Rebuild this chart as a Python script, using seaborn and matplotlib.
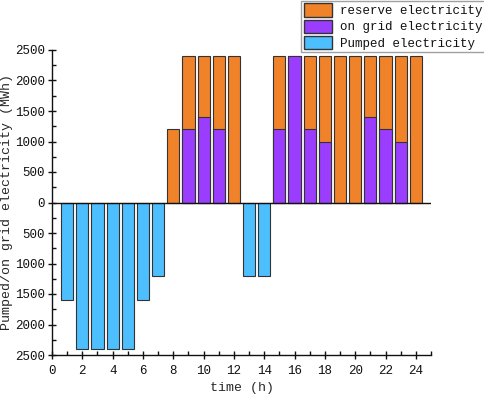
import matplotlib
matplotlib.use("Agg")
import matplotlib.pyplot as plt
import matplotlib.patches as mpatches
from matplotlib.ticker import MultipleLocator, FuncFormatter
import pandas as pd
import seaborn as sns

hours = list(range(1, 25))
pumped = [1600, 2400, 2400, 2400, 2400, 1600, 1200, 0, 0, 0, 0, 0,
          1200, 1200, 0, 0, 0, 0, 0, 0, 0, 0, 0, 0]
on_grid = [0, 0, 0, 0, 0, 0, 0, 0, 1200, 1400, 1200, 0,
           0, 0, 1200, 2400, 1200, 1000, 0, 0, 1400, 1200, 1000, 0]
reserve = [0, 0, 0, 0, 0, 0, 0, 1200, 1200, 1000, 1200, 2400,
           0, 0, 1200, 0, 1200, 1400, 2400, 2400, 1000, 1200, 1400, 2400]

labels = ["reserve electricity", "on grid electricity", "Pumped electricity"]
colors = ["#F0822A", "#9B3DFF", "#4DBFFF"]

df = pd.DataFrame({"hour": hours, "pumped": pumped,
                   "on_grid": on_grid, "reserve": reserve})
df["total"] = df["on_grid"] + df["reserve"]
df["pumped_neg"] = -df["pumped"]

sns.set_style("ticks")
plt.rcParams["font.family"] = ["Liberation Mono", "DejaVu Sans"]
plt.rcParams["text.color"] = "#111111"

fig = plt.figure(figsize=(4.84, 3.97), dpi=100)
ax = fig.add_axes([52 / 484, 42 / 397, 379 / 484, 305 / 397])

edge = "#333333"
bar_kw = dict(native_scale=True, width=0.8, edgecolor=edge, linewidth=0.8,
              ax=ax, legend=False, saturation=1)
sns.barplot(data=df[df["total"] > 0], x="hour", y="total", color=colors[0], **bar_kw)
sns.barplot(data=df[df["on_grid"] > 0], x="hour", y="on_grid", color=colors[1], **bar_kw)
sns.barplot(data=df[df["pumped"] > 0], x="hour", y="pumped_neg", color=colors[2], **bar_kw)

ax.set_xlim(0, 25)
ax.set_ylim(-2500, 2500)
ax.xaxis.set_major_locator(MultipleLocator(2))
ax.xaxis.set_minor_locator(MultipleLocator(1))
ax.yaxis.set_major_locator(MultipleLocator(500))
ax.yaxis.set_minor_locator(MultipleLocator(250))
ax.yaxis.set_major_formatter(FuncFormatter(lambda v, p: f"{abs(v):.0f}"))
ax.tick_params(which="major", direction="inout", length=6, width=1,
               labelsize=9, colors="#111111")
ax.tick_params(which="minor", direction="in", length=3, width=1, colors="#111111")
ax.tick_params(axis="x", pad=4)
ax.tick_params(axis="y", pad=2)
ax.axhline(0, color="#111111", linewidth=1)

for s in ["top", "right"]:
    ax.spines[s].set_visible(False)
for s in ["left", "bottom"]:
    ax.spines[s].set_linewidth(1)
    ax.spines[s].set_color("#111111")

ax.set_xlabel("time (h)", fontsize=9.5)
ax.xaxis.set_label_coords(0.5, -0.088)
ax.set_ylabel("Pumped/on grid electricity (MWh)", fontsize=9.5)
ax.yaxis.set_label_coords(-0.102, 0.5)

handles = [mpatches.Patch(facecolor=c, edgecolor=edge, label=l)
           for c, l in zip(colors, labels)]
fig.legend(handles=handles, loc="upper left", bbox_to_anchor=(301 / 484, 0.998),
           fontsize=9, frameon=True, fancybox=False, edgecolor="#888888",
           handlelength=2.3, handleheight=1.25, handletextpad=0.6,
           labelspacing=0.2, borderpad=0.2, borderaxespad=0)

fig.savefig("out.png", dpi=100)
